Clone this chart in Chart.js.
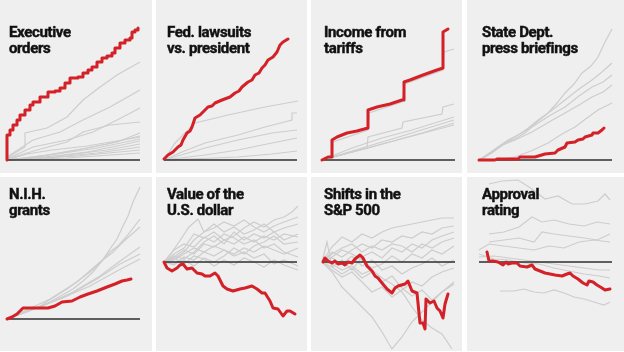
<!DOCTYPE html>
<html>
<head>
<meta charset="utf-8">
<script src="https://cdn.jsdelivr.net/npm/chart.js@4"></script>
<style>
  body { margin: 0; background: #fff; width: 624px; height: 352px; overflow: hidden; position: relative; }
  .panel { position: absolute; background: #efefef; }
  .panel canvas { position: absolute; left: 0; top: 0; }
  .title { position: absolute; font-family: Roboto, "Liberation Sans", sans-serif; font-weight: 700;
           font-size: 15px; line-height: 16px; color: #111; letter-spacing: -0.35px; white-space: nowrap;
           -webkit-text-stroke: 0.45px #111; }
</style>
</head>
<body>
<script>

/* ------------------------------------------------ */
// data: x = days since inauguration, y = change from day one (panel units)

const titles = [
  ['Executive', 'orders'], ['Fed. lawsuits', 'vs. president'], ['Income from', 'tariffs'], ['State Dept.', 'press briefings'],
  ['N.I.H.', 'grants'], ['Value of the', 'U.S. dollar'], ['Shifts in the', 'S&P 500'], ['Approval', 'rating'],
];

const execRed = [[0,0],[0,25],[3,30],[6,35],[10,40],[13,45],[18,50],[23,55],[26,58],[33,63],[41,68],[48,69],[53,72],[58,77],[63,82],[71,83],[76,87],[81,90],[85,93],[90,98],[95,102],[100,104],[105,107],[108,112],[113,117],[118,120],[123,122],[125,128],[128,130],[131,132]];
const execGray = [
  [[0,2],[18,13],[18,27],[40,32],[60,43],[76,60],[93,73],[110,85],[133,98]],
  [[0,3],[26,20],[53,28],[76,40],[103,53],[133,70]],
  [[0,1],[26,13],[60,20],[86,28],[110,40],[133,52]],
  [[0,1],[30,10],[60,18],[76,28],[103,35],[133,38]],
  [[0,0],[40,5],[80,12],[110,18],[133,27]],
  [[0,0],[30,3],[70,10],[100,16],[133,24]],
  [[0,0],[20,6],[45,10],[80,14],[133,23]],
  [[0,0],[50,6],[90,12],[133,21]],
  [[0,0],[40,3],[80,8],[110,14],[133,19]],
  [[0,0],[60,5],[100,10],[133,16]],
  [[0,0],[50,3],[90,7],[133,13]],
  [[0,0],[70,4],[133,10]],
  [[0,0],[60,2],[133,7]],
];

const suitsRed = [[0,1],[4,5],[9,8],[14,13],[17,15],[19,20],[23,27],[26,29],[28,33],[31,42],[36,45],[41,50],[44,53],[48,54],[51,57],[58,60],[66,63],[71,67],[75,69],[78,73],[84,78],[88,80],[91,85],[95,87],[98,92],[101,95],[104,100],[109,103],[113,108],[116,115],[119,118],[124,121]];
const suitsGray = [
  [[0,0],[11,17],[21,27],[31,37],[64,45],[101,53],[134,59]],
  [[0,0],[18,8],[41,17],[74,25],[101,33],[128,40],[128,47],[133,47]],
  [[0,0],[41,12],[74,20],[108,27],[133,30]],
  [[0,0],[41,5],[74,10],[108,17],[133,22]],
  [[0,0],[74,3],[108,6],[133,9]],
];

const tariffRed = [[0,0],[6,3],[10,3],[10,20],[15,23],[25,27],[35,29],[46,32],[46,50],[55,53],[68,56],[80,60],[82,60],[82,78],[88,80],[101,85],[115,90],[121,92],[121,128],[126,131]];
const tariffGray = [
  [[0,0],[10,3],[11,18],[46,30],[47,47],[80,58],[83,76],[121,90],[122,108],[132,111]],
  [[0,0],[45,12],[46,23],[80,32],[81,38],[120,46],[121,53],[132,56]],
  [[0,0],[30,12],[60,22],[90,30],[132,43]],
  [[0,0],[40,12],[80,24],[132,40]],
  [[0,0],[50,13],[100,27],[132,37]],
  [[0,0],[60,16],[132,35]],
];

const briefRed = [[0,0],[16,0],[18,1],[39,1],[41,3],[56,3],[66,6],[76,7],[79,10],[86,13],[88,17],[96,18],[99,20],[104,21],[106,23],[113,25],[114,27],[119,27],[123,30],[125,32]];
const briefGray = [
  [[0,0],[6,3],[16,10],[26,17],[36,21],[46,27],[58,38],[69,47],[78,57],[86,67],[95,76],[103,87],[112,94],[119,103],[126,118],[133,131]],
  [[0,0],[13,7],[25,16],[36,23],[48,31],[59,40],[72,49],[86,60],[100,71],[113,80],[123,88],[133,97]],
  [[0,0],[9,5],[19,13],[29,20],[41,26],[53,33],[70,44],[86,53],[100,64],[113,73],[124,78],[133,85]],
  [[0,0],[19,13],[36,20],[53,28],[70,38],[86,47],[100,55],[113,63],[124,68],[133,75]],
  [[0,0],[19,0],[36,3],[52,9],[69,17],[83,26],[96,33],[108,42],[119,50],[133,57]],
];

const nihRed = [[0,0],[5,2],[10,5],[16,11],[26,11],[41,11],[48,13],[55,17],[65,18],[73,22],[81,25],[90,28],[100,32],[108,35],[115,38],[120,39],[124,40]];
const nihGray = [
  [[0,0],[20,7],[43,17],[66,30],[76,38],[86,47],[95,58],[103,70],[110,80],[116,93],[121,103],[126,117],[133,132]],
  [[0,0],[33,13],[60,30],[83,47],[93,56],[103,67],[112,74],[120,83],[133,100]],
  [[0,0],[43,20],[70,37],[93,57],[105,66],[116,77],[133,92]],
  [[0,0],[36,13],[66,27],[93,43],[105,52],[116,60],[133,72]],
  [[0,0],[60,23],[90,40],[113,55],[133,65]],
  [[0,0],[53,20],[83,33],[110,48],[133,60]],
];

const dollarRed = [[0,0],[3,-6],[8,-9],[13,-6],[16,-3],[19,-2],[23,-7],[28,-6],[33,-11],[38,-12],[41,-14],[46,-14],[51,-11],[54,-14],[59,-24],[63,-27],[69,-29],[76,-27],[81,-26],[88,-24],[93,-27],[98,-31],[101,-31],[106,-39],[109,-46],[114,-47],[119,-54],[123,-49],[126,-49],[131,-52]];
const dollarGray = [
  [[0,0],[10,8],[20,14],[30,28],[40,24],[50,30],[60,22],[70,26],[80,34],[90,40],[100,35],[110,42],[120,45],[128,50],[134,56]],
  [[0,0],[8,10],[15,20],[25,35],[34,43],[40,30],[50,38],[60,30],[70,35],[80,28],[90,32],[100,38],[110,30],[120,34],[134,38]],
  [[0,0],[10,5],[20,12],[30,8],[40,18],[50,15],[60,22],[70,18],[80,25],[90,20],[100,26],[110,22],[120,28],[134,25]],
  [[0,0],[10,-3],[20,5],[30,2],[40,10],[50,6],[60,12],[70,8],[80,14],[90,10],[100,16],[110,12],[120,8],[134,14]],
  [[0,0],[10,4],[20,-2],[30,6],[40,3],[50,-4],[60,2],[70,-3],[80,4],[90,0],[100,-5],[110,2],[120,-3],[134,-8]],
  [[0,0],[10,12],[20,18],[30,15],[40,25],[50,20],[60,28],[70,24],[80,18],[90,22],[100,14],[110,18],[120,10],[134,5]],
  [[0,0],[10,2],[20,8],[30,14],[40,10],[50,16],[60,12],[70,6],[80,10],[90,4],[100,8],[110,-2],[120,2],[134,-4]],
  [[0,0],[10,6],[20,3],[30,10],[40,20],[50,26],[60,18],[70,30],[80,22],[90,28],[100,24],[110,30],[120,22],[134,28]],
  [[0,0],[10,-2],[20,2],[30,-4],[40,4],[50,0],[60,6],[70,14],[80,8],[90,16],[100,20],[110,26],[120,18],[134,20]],
  [[0,0],[10,3],[20,10],[30,22],[40,30],[50,34],[60,40],[70,36],[80,42],[90,35],[100,30],[110,36],[120,40],[134,45]],
];

const spRed = [[1,0],[3,4],[6,1],[10,-1],[13,1],[16,-2],[20,-1],[23,-3],[26,0],[30,-1],[33,3],[38,7],[41,4],[45,-4],[50,-9],[53,-14],[56,-16],[60,-21],[65,-27],[70,-31],[73,-26],[76,-24],[83,-22],[86,-19],[90,-29],[95,-31],[96,-41],[98,-61],[101,-61],[103,-67],[104,-37],[108,-41],[112,-39],[115,-46],[118,-49],[121,-56],[123,-42],[126,-32]];
const spGray = [
  [[0,0],[10,15],[20,25],[30,20],[40,28],[50,24],[60,30],[70,34],[80,36],[90,38],[100,40],[110,42],[120,44],[132,44]],
  [[0,0],[10,10],[20,5],[30,12],[40,18],[50,14],[60,22],[70,20],[80,26],[90,24],[100,30],[110,28],[120,34],[132,36]],
  [[0,0],[10,-5],[20,2],[30,-8],[40,5],[50,10],[60,4],[70,14],[80,10],[90,18],[100,14],[110,22],[120,26],[132,30]],
  [[0,0],[10,5],[20,12],[30,8],[40,2],[50,-6],[60,-2],[70,6],[80,0],[90,8],[100,4],[110,12],[120,8],[132,16]],
  [[0,0],[10,-8],[20,-15],[30,-10],[40,-20],[50,-30],[60,-25],[70,-35],[80,-28],[90,-20],[100,-24],[110,-15],[120,-10],[132,-6]],
  [[0,0],[10,-10],[20,-25],[30,-35],[40,-45],[50,-55],[60,-70],[70,-87],[80,-75],[90,-60],[100,-50],[110,-40],[120,-30],[132,-20]],
  [[0,0],[5,20],[10,-5],[20,-12],[30,-6],[40,-16],[50,-10],[60,-20],[70,-14],[80,-26],[90,-34],[100,-28],[110,-38],[120,-30],[132,-22]],
  [[0,0],[10,4],[20,-2],[30,6],[40,-4],[50,2],[60,-8],[70,-4],[80,-12],[90,-6],[100,-2],[110,4],[120,-4],[132,2]],
  [[0,0],[10,-2],[20,-8],[30,-4],[40,-12],[50,-8],[60,-16],[70,-22],[80,-30],[90,-45],[100,-58],[110,-66],[120,-72],[130,-87]],
  [[0,0],[10,8],[20,14],[30,18],[40,10],[50,16],[60,12],[70,18],[80,16],[90,10],[100,18],[110,14],[120,20],[132,24]],
];

const approvalRed = [[8,10],[10,1],[14,1],[19,0],[24,-3],[27,0],[29,-2],[33,-1],[38,-1],[41,-4],[48,-5],[53,-3],[56,-7],[61,-9],[66,-11],[71,-12],[76,-13],[83,-14],[88,-12],[91,-11],[94,-14],[99,-17],[104,-21],[108,-23],[110,-19],[114,-20],[118,-23],[123,-26],[126,-28],[131,-27]];
const approvalGray = [
  [[10,78],[23,81],[39,82],[53,73],[66,63],[79,66],[93,58],[106,58],[119,61],[126,68],[131,62]],
  [[10,28],[25,30],[40,35],[53,45],[63,40],[75,42],[90,38],[105,36],[118,40],[131,38]],
  [[10,20],[25,22],[40,24],[55,20],[63,30],[75,28],[90,26],[105,24],[118,22],[131,28]],
  [[0,12],[10,18],[25,16],[40,14],[55,12],[70,16],[85,14],[100,20],[115,22],[131,20]],
  [[0,5],[15,6],[30,4],[45,2],[60,0],[75,-2],[90,-4],[105,-6],[120,-8],[131,-8]],
  [[0,8],[15,3],[30,2],[45,-1],[60,-2],[75,-6],[90,-9],[105,-12],[120,-14],[131,-16]],
  [[21,-29],[35,-29],[45,-27],[55,-30],[65,-31],[75,-28],[85,-31],[95,-35],[105,-37],[115,-40],[125,-43],[131,-40]],
];

/* ------------------------------------------------ */

const series = [
  { red: execRed, gray: execGray, stepped: true },
  { red: suitsRed, gray: suitsGray, stepped: false },
  { red: tariffRed, gray: tariffGray, stepped: false },
  { red: briefRed, gray: briefGray, stepped: false },
  { red: nihRed, gray: nihGray, stepped: false },
  { red: dollarRed, gray: dollarGray, stepped: false },
  { red: spRed, gray: spGray, stepped: false },
  { red: approvalRed, gray: approvalGray, stepped: false },
];

// panel boxes and chart-area offsets in page pixels
const colLeft = [0, 156, 311, 467];
const colWidth = [152, 151, 151, 157];
const chartLeft = [7, 8, 11, 12];
const rowTop = [0, 177];
const rowHeight = [173, 174];
const baseline = [160, 160, 160, 160, 142, 85, 85, 85];
const titleLeft = [9, 11, 13, 15];
const titleBase = [37, 22];

const RED = '#d42027';
const GRAY = '#cdcdcd';

const baselinePlugin = {
  id: 'baseline',
  beforeDatasetDraw(chart, args) {
    if (args.index != 0) return;
    let ctx = chart.ctx;
    let y = Math.round(chart.scales.y.getPixelForValue(0));
    let x0 = chart.scales.x.getPixelForValue(0);
    let x1 = chart.scales.x.getPixelForValue(133);
    ctx.save();
    ctx.strokeStyle = '#2e2e2e';
    ctx.lineWidth = 1.4;
    ctx.beginPath();
    ctx.moveTo(x0, y);
    ctx.lineTo(x1, y);
    ctx.stroke();
    ctx.restore();
  }
};

function toPoints(arr) {
  return arr.map((p) => ({ x: p[0], y: p[1] }));
}

series.forEach((s, i) => {
  let col = i % 4;
  let row = Math.floor(i / 4);
  let w = colWidth[col];
  let h = rowHeight[row];

  let panel = document.createElement('div');
  panel.className = 'panel';
  panel.style.left = colLeft[col] + 'px';
  panel.style.top = rowTop[row] + 'px';
  panel.style.width = w + 'px';
  panel.style.height = h + 'px';
  document.body.appendChild(panel);

  let canvas = document.createElement('canvas');
  canvas.width = w;
  canvas.height = h;
  panel.appendChild(canvas);

  let title = document.createElement('div');
  title.className = 'title';
  title.style.left = titleLeft[col] + 'px';
  title.style.top = (titleBase[row] - 13) + 'px';
  title.innerHTML = titles[i].map((t) => t.replace('&', '&amp;')).join('<br>');
  panel.appendChild(title);

  // red first so it is drawn on top
  let datasets = [{
    data: toPoints(s.red),
    borderColor: RED,
    borderWidth: 3,
    stepped: s.stepped,
    borderJoinStyle: 'round',
    borderCapStyle: 'round',
  }];
  s.gray.forEach((g) => {
    datasets.push({
      data: toPoints(g),
      borderColor: GRAY,
      borderWidth: 1.2,
    });
  });

  let left = chartLeft[col];
  new Chart(canvas.getContext('2d'), {
    type: 'line',
    data: { datasets: datasets },
    options: {
      responsive: false,
      animation: false,
      devicePixelRatio: 1,
      clip: false,
      layout: { padding: { left: left, right: w - left - 135, top: 0, bottom: 0 } },
      elements: { point: { radius: 0 }, line: { tension: 0 } },
      plugins: { legend: { display: false }, tooltip: { enabled: false } },
      scales: {
        x: { type: 'linear', min: 0, max: 135, display: false },
        y: { min: baseline[i] - h, max: baseline[i], display: false },
      },
    },
    plugins: [baselinePlugin],
  });
});

</script>
</body>
</html>
